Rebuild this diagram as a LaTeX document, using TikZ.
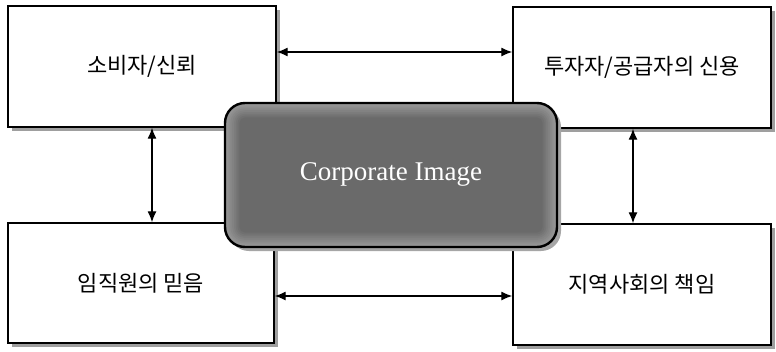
\documentclass[tikz,border=0pt]{standalone}
\usepackage{fontspec}
\setmainfont{Liberation Serif}
\newfontfamily\kr{Noto Sans CJK KR}
\usetikzlibrary{arrows.meta,shadows}
\tikzset{
  box/.style={draw=black, line width=1.4pt, fill=white, inner sep=0pt,
    font=\kr\fontsize{22}{26}\selectfont,
    drop shadow={shadow xshift=4pt, shadow yshift=-4pt, fill=gray!75, opacity=1}},
  core/.style={draw=black, line width=2.4pt, rounded corners=20pt, inner sep=0pt,
    fill={rgb,255:red,150;green,150;blue,150}, text=white,
    font=\fontsize{27}{31}\selectfont,
    path picture={
      \foreach \i in {1,...,8}{
        \pgfmathsetmacro{\shadeval}{40+2.3*\i}
        \pgfmathsetmacro{\rc}{max(20-1.8*\i,2)}
        \fill[black!\shadeval, rounded corners=\rc pt]
          ([xshift=1.8*\i pt, yshift=-1.8*\i pt]path picture bounding box.north west)
          rectangle ([xshift=-1.8*\i pt, yshift=1.8*\i pt]path picture bounding box.south east);
      }
    },
    drop shadow={shadow xshift=4pt, shadow yshift=-4pt, fill=gray!70, opacity=1}},
  arr/.style={line width=1.3pt, {Latex[length=11pt,width=9pt]}-{Latex[length=11pt,width=9pt]}}
}
\begin{document}
\begin{tikzpicture}[x=1pt,y=-1pt]
\useasboundingbox (0,0) rectangle (776,351);
\node[box, minimum width=268pt, minimum height=121pt] (TL) at (142,66.5) {소비자/신뢰};
\node[box, minimum width=258pt, minimum height=121pt] (TR) at (642,67.5) {투자자/공급자의 신용};
\node[box, minimum width=266pt, minimum height=120pt] (BL) at (141,283) {임직원의 믿음};
\node[box, minimum width=258pt, minimum height=121pt] (BR) at (642,284.5) {지역사회의 책임};
\draw[arr] (TL.east |- 0,52) -- (TR.west |- 0,52);
\draw[arr] (BL.east |- 0,296) -- (BR.west |- 0,296);
\draw[arr] (152,0 |- TL.south) -- (152,0 |- BL.north);
\draw[arr] (633,0 |- TR.south) -- (633,0 |- BR.north);
\node[core, minimum width=332pt, minimum height=144pt] (C) at (391,175) {\raisebox{6pt}{Corporate Image}};
\end{tikzpicture}
\end{document}
